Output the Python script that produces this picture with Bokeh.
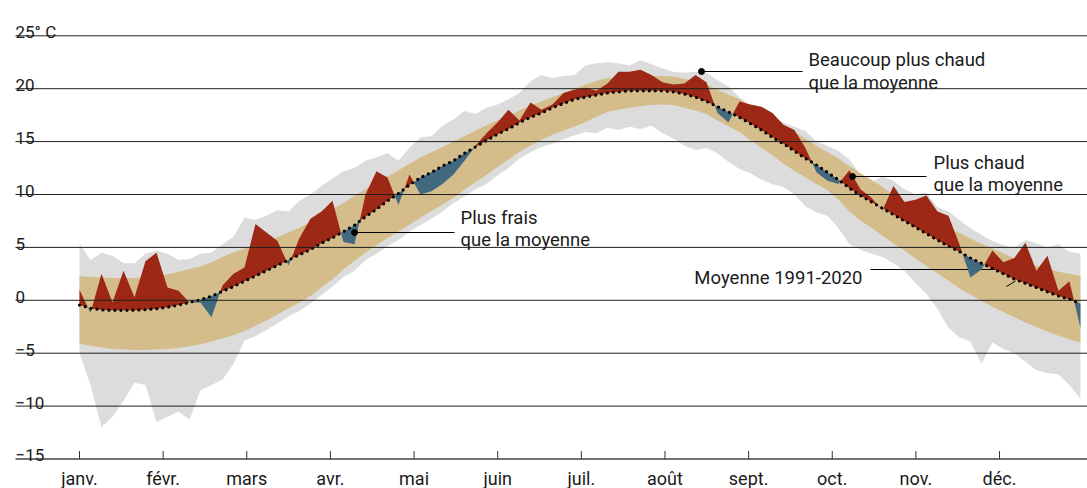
import numpy as np
from bokeh.plotting import figure
from bokeh.models import Range1d
from bokeh.core.properties import value
from bokeh.embed import file_html
from bokeh.resources import INLINE

# ---------------- data (day of year, every 4 days) ----------------
days = list(range(0, 365, 4))

observed = [1.0, -1.2, 2.5, -0.2, 2.8, 0.3, 3.7, 4.5, 1.2, 0.9,
            -0.2, -0.2, -1.6, 1.4, 2.5, 3.1, 7.2, 6.4, 5.6, 3.3,
            5.9, 7.7, 8.4, 9.4, 5.5, 5.3, 10.0, 12.2, 11.6, 9.0,
            11.9, 10.0, 10.3, 11.0, 11.9, 13.2, 14.6, 15.8, 16.8, 18.0,
            17.0, 18.7, 18.0, 18.5, 19.6, 19.9, 20.1, 19.8, 20.5, 21.6,
            21.6, 21.8, 21.3, 20.6, 20.4, 20.5, 21.3, 20.6, 17.7, 16.8,
            18.8, 18.5, 18.3, 17.7, 16.6, 16.1, 14.4, 12.1, 11.3, 11.0,
            12.3, 10.5, 9.7, 8.5, 10.8, 9.3, 9.5, 9.9, 8.4, 8.0,
            5.3, 2.15, 2.9, 4.7, 3.6, 4.0, 5.45, 2.8, 4.2, 0.9,
            1.8, -2.6]

mean_9120 = [-0.45, -0.75, -0.9, -0.95, -0.95, -0.93, -0.88, -0.8, -0.65, -0.45,
             -0.2, 0.05, 0.4, 0.85, 1.3, 1.8, 2.3, 2.8, 3.3, 3.8,
             4.3, 4.8, 5.4, 5.9, 6.5, 7.1, 7.9, 8.6, 9.4, 10.1,
             10.9, 11.6, 12.1, 12.7, 13.2, 13.9, 14.5, 15.1, 15.7, 16.2,
             16.8, 17.3, 17.7, 18.2, 18.6, 19.0, 19.2, 19.4, 19.6, 19.7,
             19.8, 19.8, 19.8, 19.8, 19.7, 19.5, 19.2, 18.8, 18.3, 17.8,
             17.3, 16.7, 16.1, 15.4, 14.8, 14.1, 13.4, 12.8, 12.1, 11.4,
             10.6, 9.9, 9.3, 8.7, 8.1, 7.5, 6.9, 6.3, 5.7, 5.1,
             4.6, 4.0, 3.5, 3.0, 2.5, 2.0, 1.6, 1.2, 0.8, 0.4,
             0.1, -0.3]

normal_hi = [2.3, 2.2, 2.15, 2.1, 2.1, 2.1, 2.2, 2.3, 2.45, 2.7,
             2.95, 3.2, 3.6, 4.1, 4.55, 4.9, 5.25, 5.6, 5.95, 6.4,
             6.85, 7.4, 8.0, 8.6, 9.2, 9.85, 10.5, 11.1, 11.7, 12.3,
             12.9, 13.5, 14.0, 14.5, 15.0, 15.5, 16.05, 16.55, 17.0, 17.45,
             17.95, 18.4, 18.8, 19.2, 19.6, 20.0, 20.4, 20.75, 20.98, 21.08,
             21.15, 21.2, 21.2, 21.2, 21.15, 20.95, 20.7, 20.4, 19.9, 19.45,
             19.0, 18.4, 17.75, 17.1, 16.5, 15.9, 15.3, 14.6, 14.0, 13.4,
             12.7, 12.0, 11.4, 10.7, 10.0, 9.35, 8.6, 8.0, 7.4, 6.85,
             6.35, 5.85, 5.35, 4.9, 4.45, 3.95, 3.55, 3.25, 2.95, 2.7,
             2.5, 2.3]

normal_lo = [-4.1, -4.3, -4.45, -4.6, -4.65, -4.7, -4.7, -4.65, -4.6, -4.5,
             -4.35, -4.15, -3.9, -3.6, -3.3, -2.9, -2.4, -1.9, -1.35, -0.75,
             -0.2, 0.4, 1.2, 2.0, 2.9, 3.75, 4.5, 5.2, 5.9, 6.5,
             7.15, 7.8, 8.45, 9.05, 9.7, 10.45, 11.15, 11.85, 12.6, 13.3,
             14.05, 14.6, 15.15, 15.65, 16.05, 16.4, 16.85, 17.35, 17.8, 18.0,
             18.2, 18.35, 18.45, 18.5, 18.45, 18.2, 17.95, 17.6, 17.0, 16.45,
             15.9, 15.15, 14.4, 13.7, 12.9, 12.25, 11.6, 11.0, 10.4, 9.5,
             8.4, 7.55, 6.85, 6.1, 5.4, 4.7, 3.95, 3.25, 2.55, 1.85,
             1.15, 0.55, -0.05, -0.6, -1.1, -1.6, -2.1, -2.55, -2.95, -3.35,
             -3.7, -4.0]

record_hi = [5.4, 3.8, 4.5, 4.2, 3.5, 3.5, 4.4, 4.7, 4.4, 3.8,
             3.9, 4.4, 4.5, 5.3, 6.0, 7.8, 7.6, 8.0, 8.5, 8.4,
             9.4, 10.0, 10.8, 11.5, 12.2, 12.5, 13.2, 13.5, 13.9, 13.2,
             14.4, 15.4, 15.5, 16.5, 17.1, 17.9, 17.6, 18.2, 18.5, 19.0,
             19.6, 20.7, 21.3, 21.0, 21.2, 21.3, 22.2, 22.4, 22.5, 22.4,
             22.2, 22.7, 22.3, 21.9, 21.6, 21.5, 21.6, 21.5, 20.8, 20.2,
             19.2, 18.4, 17.8, 17.3, 16.8, 16.4, 16.0, 15.0, 14.6, 14.1,
             13.3, 11.9, 11.2, 11.7, 11.3, 10.5, 10.0, 10.2, 8.8, 8.4,
             7.6, 6.8, 6.2, 5.6, 5.2, 5.0, 5.7, 5.4, 5.0, 5.3,
             4.6, 4.4]

record_lo = [-5.0, -8.0, -12.0, -11.0, -9.5, -7.8, -8.0, -11.5, -11.0, -10.5,
             -11.3, -8.5, -8.0, -7.5, -6.0, -3.8, -3.4, -2.8, -2.2, -1.5,
             -1.0, -0.3, 0.5, 1.3, 2.2, 2.8, 3.8, 4.4, 5.1, 5.7,
             6.5, 7.1, 7.7, 8.4, 9.2, 9.8, 10.5, 11.0, 11.8, 12.5,
             13.4, 14.0, 14.5, 14.8, 15.2, 15.6, 15.9, 15.8, 16.3, 16.1,
             16.4, 16.2, 16.5, 15.8, 15.3, 14.6, 14.2, 14.4, 13.9, 13.1,
             12.4, 12.0, 11.4, 11.0, 10.7, 10.0, 8.9, 8.3, 8.0, 6.8,
             5.3, 4.8, 4.4, 4.1, 3.5, 2.8, 1.6, 0.6, -0.8, -2.6,
             -3.5, -3.9, -6.0, -4.0, -4.6, -5.0, -5.8, -6.6, -6.9, -7.0,
             -8.0, -9.3]

month_labels = ["janv.", "févr.", "mars", "avr.", "mai", "juin",
                "juil.", "août", "sept.", "oct.", "nov.", "déc."]
y_ticks = [-15, -10, -5, 0, 5, 10, 15, 20, 25]
y_tick_labels = ["\u221215", "\u221210", "\u22125", "0", "5", "10", "15", "20", "25° C"]

# ---------------- page-pixel helpers (for annotation placement) ----------------
PX0, PXD = 79.0, 2.7498     # x page pixel of day 0, pixels per day
PY0, PYU = 299.8, 10.58     # y page pixel of 0 °C, pixels per °C
OFF = 0                     # page offset of the figure


def X(px):
    return (px - PX0) / PXD


def Y(py):
    return (PY0 - py) / PYU


W, H = 1087, 488
FONT = value("Roboto")

p = figure(width=W, height=H, x_range=Range1d(X(OFF), X(OFF + W)),
           y_range=Range1d(Y(OFF + H), Y(OFF)), output_backend="svg",
           toolbar_location=None, x_axis_type=None, y_axis_type=None,
           min_border=0)
p.grid.visible = False
p.outline_line_color = None
p.background_fill_color = "white"
p.border_fill_color = "white"

d = np.array(days, dtype=float)
o = np.array(observed)
m = np.array(mean_9120)

# bands
p.varea(x=d, y1=record_lo, y2=record_hi, fill_color="#dcdcdc")
p.varea(x=d, y1=normal_lo, y2=normal_hi, fill_color="#d5bd8b")

# connector for "Moyenne" label (partly hidden behind anomaly fill)
p.line(x=[X(870), X(1003)], y=[Y(269), Y(269)], line_color="black", line_width=1)

# anomaly fill with crossing points inserted
xs, os_, ms = [d[0]], [o[0]], [m[0]]
for i in range(1, len(d)):
    a0 = o[i - 1] - m[i - 1]
    a1 = o[i] - m[i]
    if a0 * a1 < 0:
        t = a0 / (a0 - a1)
        xc = d[i - 1] + t * (d[i] - d[i - 1])
        mc = m[i - 1] + t * (m[i] - m[i - 1])
        xs.append(xc); os_.append(mc); ms.append(mc)
    xs.append(d[i]); os_.append(o[i]); ms.append(m[i])
xs = np.array(xs); os_ = np.array(os_); ms = np.array(ms)
p.varea(x=xs, y1=ms, y2=np.maximum(os_, ms), fill_color="#9d2816")
p.varea(x=xs, y1=np.minimum(os_, ms), y2=ms, fill_color="#42697f")

# mean dotted line
p.line(x=d, y=m, line_color="black", line_width=3.2, line_dash="0 6", line_cap="round")

# small visible tail of "Moyenne" connector
p.line(x=[X(1006), X(1015)], y=[Y(286), Y(280.5)], line_color="black", line_width=1)

# gridlines
for v in y_ticks:
    p.line(x=[X(15), X(1100)], y=[v, v], line_color="#1e1e1e" if v != -15 else "#444444",
           line_width=1 if v != -15 else 1.6)

# month ticks
tick_x = [k * 365.0 / 12.0 for k in range(12)]
p.segment(x0=tick_x, y0=[-15] * 12, x1=tick_x, y1=[Y(450.5)] * 12,
          line_color="#333333", line_width=1)

# y labels
p.text(x=[X(15)] * len(y_ticks), y=[v + 3.6 / PYU for v in y_ticks], text=y_tick_labels,
       text_font=FONT, text_font_size="17px", text_color="#1a1a1a",
       text_baseline="alphabetic", text_align="left")

# month labels
p.text(x=tick_x, y=[Y(478)] * 12, text=month_labels, text_font=FONT,
       text_font_size="18px", text_color="#1a1a1a", text_baseline="alphabetic",
       text_align="center")

# annotation pointers
p.line(x=[X(701), X(802)], y=[Y(71), Y(71)], line_color="black", line_width=1)
p.line(x=[X(852), X(926)], y=[Y(176), Y(176)], line_color="black", line_width=1)
p.line(x=[X(354), X(454)], y=[Y(232), Y(232)], line_color="black", line_width=1)
p.scatter(x=[X(701), X(852), X(354)], y=[Y(71), Y(176), Y(232)], size=6,
          fill_color="black", line_color="black")

ann_x = [X(808), X(808), X(933), X(933), X(460), X(460), X(862)]
ann_y = [Y(59), Y(82), Y(162), Y(184.5), Y(217), Y(239.5), Y(277)]
ann_t = ["Beaucoup plus chaud", "que la moyenne", "Plus chaud", "que la moyenne",
         "Plus frais", "que la moyenne", "Moyenne 1991-2020"]
ann_align = ["left"] * 6 + ["right"]
p.text(x=ann_x, y=ann_y, text=ann_t, text_align=ann_align, text_font=FONT,
       text_font_size="18.5px", text_color="#1a1a1a", text_baseline="alphabetic")

open("out.html", "w").write(file_html(p, INLINE))
